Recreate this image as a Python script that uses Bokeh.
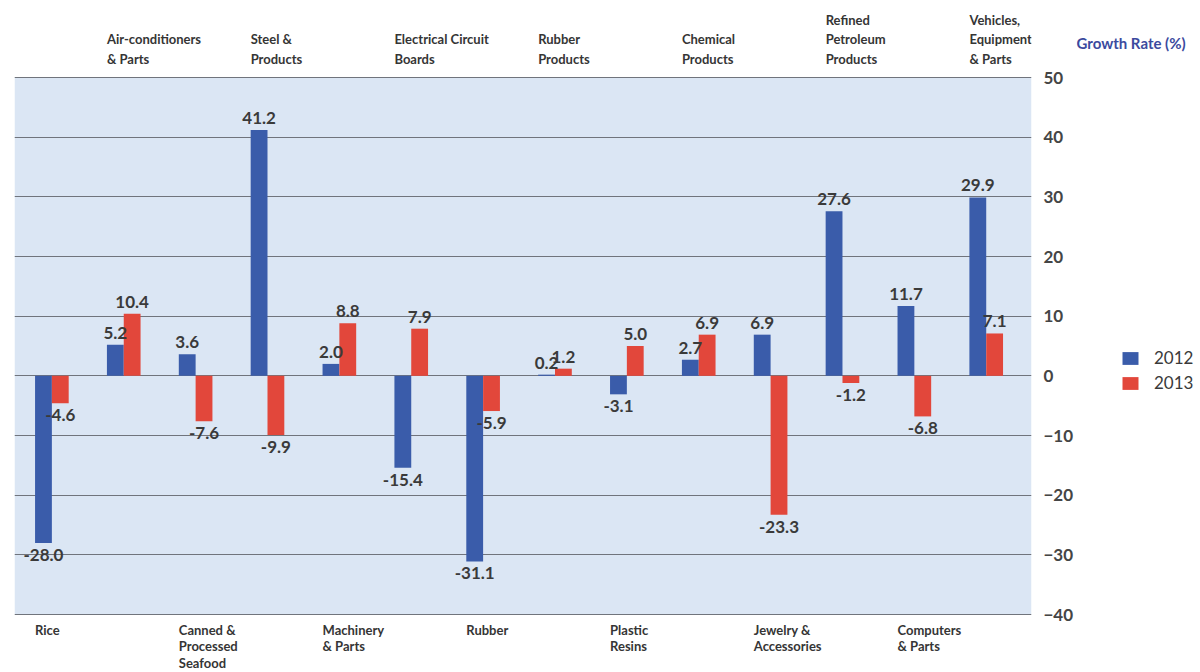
from bokeh.plotting import figure
from bokeh.layouts import row
from bokeh.models import (ColumnDataSource, Range1d, FixedTicker, LabelSet, Label,
                          Legend, LegendItem, BoxAnnotation)
from bokeh.core.properties import value
from bokeh.embed import file_html
from bokeh.resources import INLINE
import numpy as np

categories = ["Rice", "Air-conditioners\n& Parts", "Canned &\nProcessed\nSeafood",
              "Steel &\nProducts", "Machinery\n& Parts", "Electrical Circuit\nBoards",
              "Rubber", "Rubber\nProducts", "Plastic\nResins", "Chemical\nProducts",
              "Jewelry &\nAccessories", "Refined\nPetroleum\nProducts", "Computers\n& Parts",
              "Vehicles,\nEquipment\n& Parts"]
label_side = ["bottom", "top", "bottom", "top", "bottom", "top", "bottom", "top",
              "bottom", "top", "bottom", "top", "bottom", "top"]
growth_2012 = [-28.0, 5.2, 3.6, 41.2, 2.0, -15.4, -31.1, 0.2, -3.1, 2.7, 6.9, 27.6, 11.7, 29.9]
growth_2013 = [-4.6, 10.4, -7.6, -9.9, 8.8, 7.9, -5.9, 1.2, 5.0, 6.9, -23.3, -1.2, -6.8, 7.1]
series_names = ["2012", "2013"]
axis_title = "Growth Rate (%)"
y_ticks = [-40, -30, -20, -10, 0, 10, 20, 30, 40, 50]

BLUE = "#3a5caa"
RED = "#e2473b"
TXT = "#3a3a3a"
FONT = "Lato"

# layout (pixels)
W, H = 1200, 672
MAIN_W = 1076
plot_top, plot_bottom = 77, 614          # pixel rows of the top / bottom tick
y_lo, y_hi = min(y_ticks), max(y_ticks)
ppu = (plot_bottom - plot_top) / (y_hi - y_lo)
y_range = Range1d(y_lo - (H - plot_bottom) / ppu, y_hi + plot_top / ppu)

n = len(categories)
idx = np.arange(n, dtype=float)
w = 0.234

p = figure(width=MAIN_W, height=H, output_backend="svg", toolbar_location=None,
           x_range=Range1d(-0.52, 13.63), y_range=y_range,
           y_axis_location="right", x_axis_location=None,
           min_border_left=14, min_border_right=MAIN_W - 1044,
           min_border_top=0, min_border_bottom=0)
p.background_fill_color = "#ffffff"
p.border_fill_color = "#ffffff"
p.outline_line_color = None
p.xgrid.grid_line_color = None
p.ygrid.grid_line_color = "#70747c"
p.ygrid.grid_line_width = 1
p.ygrid.ticker = FixedTicker(ticks=y_ticks)

p.add_layout(BoxAnnotation(bottom=y_lo, top=y_hi, fill_color="#dbe6f4", fill_alpha=1,
                           line_color=None, level="image"))

ax = p.yaxis[0]
ax.ticker = FixedTicker(ticks=y_ticks)
ax.axis_line_color = None
ax.major_tick_line_color = None
ax.minor_tick_line_color = None
ax.major_label_standoff = 6
ax.major_label_text_font = FONT
ax.major_label_text_font_size = "17px"
ax.major_label_text_font_style = "bold"
ax.major_label_text_color = "#454545"

v12 = np.array(growth_2012)
v13 = np.array(growth_2013)


def bar_source(xs, vals):
    return ColumnDataSource(dict(x=xs, top=vals, txt=[f"{v:.1f}" for v in vals],
                                 off=[6 if v >= 0 else -6 for v in vals],
                                 base=["bottom" if v >= 0 else "top" for v in vals]))


src12 = bar_source(idx - w / 2, v12)
src13 = bar_source(idx + w / 2, v13)

p.vbar(x="x", top="top", bottom=0, width=w, source=src12, fill_color=BLUE, line_color=None)
p.vbar(x="x", top="top", bottom=0, width=w, source=src13, fill_color=RED, line_color=None)

for src in (src12, src13):
    p.add_layout(LabelSet(x="x", y="top", text="txt", source=src, y_offset="off",
                          text_align="center", text_baseline="base",
                          text_font=value(FONT), text_font_size="17px", text_font_style="bold",
                          text_color=TXT))

top_ids = [i for i in range(n) if label_side[i] == "top"]
bot_ids = [i for i in range(n) if label_side[i] == "bottom"]
top_src = ColumnDataSource(dict(x=idx[top_ids] - w, y=[y_hi] * len(top_ids),
                                txt=[categories[i] for i in top_ids]))
bot_src = ColumnDataSource(dict(x=idx[bot_ids] - w, y=[y_lo] * len(bot_ids),
                                txt=[categories[i] for i in bot_ids]))
p.add_layout(LabelSet(x="x", y="y", text="txt", source=top_src, y_offset=11,
                      text_align="left", text_baseline="bottom", text_line_height=1.2,
                      text_font=value(FONT), text_font_size="13px", text_font_style="bold",
                      text_color="#353535"))
p.add_layout(LabelSet(x="x", y="y", text="txt", source=bot_src, y_offset=-7,
                      text_align="left", text_baseline="top", text_line_height=1.05,
                      text_font=value(FONT), text_font_size="13px", text_font_style="bold",
                      text_color="#353535"))

# side panel: axis title and legend
side_w = W - MAIN_W
q = figure(width=side_w, height=H, output_backend="svg", toolbar_location=None,
           x_range=Range1d(0, side_w), y_range=Range1d(0, H),
           x_axis_location=None, y_axis_location=None,
           min_border_left=0, min_border_right=0, min_border_top=0, min_border_bottom=0)
q.outline_line_color = None
q.grid.grid_line_color = None
q.background_fill_color = "#ffffff"
q.border_fill_color = "#ffffff"
q.add_layout(Label(x=0, y=H - 42, text=axis_title, text_baseline="middle", text_align="left",
                   text_font=FONT, text_font_size="15px", text_font_style="bold",
                   text_color="#3b4a9e"))
# legend keys (zero-height bars outside the visible range, only used for the legend swatches)
k12 = q.vbar(x=[-50], top=[0], bottom=[0], width=1, fill_color=BLUE, line_color=None)
k13 = q.vbar(x=[-50], top=[0], bottom=[0], width=1, fill_color=RED, line_color=None)
legend = Legend(items=[LegendItem(label=series_names[0], renderers=[k12]),
                       LegendItem(label=series_names[1], renderers=[k13])],
                location=(44, H - 393), background_fill_alpha=0, border_line_color=None,
                padding=0, margin=0, spacing=4, glyph_width=20, glyph_height=16,
                label_standoff=14, label_text_font=FONT, label_text_font_size="17px",
                label_text_color=TXT)
q.add_layout(legend, "center")

layout = row(p, q, spacing=0)
open("out.html", "w").write(file_html(layout, INLINE))
